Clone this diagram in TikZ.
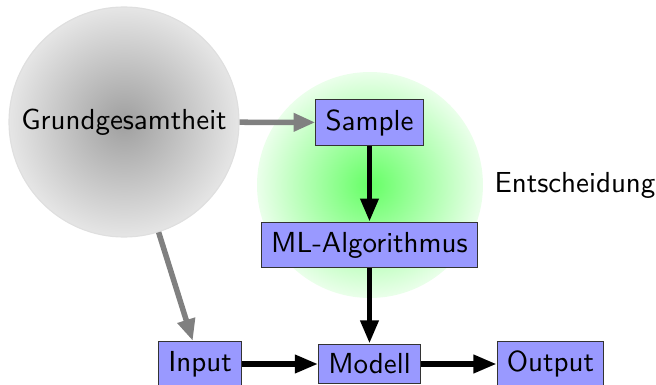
\documentclass[tikz,border=0pt]{standalone}
\usetikzlibrary{arrows.meta,shadings}
\begin{document}
\begin{tikzpicture}[x=0.345pt,y=-0.345pt,
  every node/.style={font=\sffamily},
  box/.style={draw=black!80,fill=blue!40,inner sep=0.3333em},
  grayarr/.style={draw=gray,line width=1.9pt,-{Triangle[length=7.5pt,width=6pt]}},
  blackarr/.style={draw=black,line width=1.9pt,-{Triangle[length=8pt,width=6pt]}}]
\useasboundingbox (0,0) rectangle (656,385);
\node[circle,minimum size=226*0.345pt,inner sep=0,inner color=green!60,outer color=green!8] (E) at (370,185) {};
\node[circle,minimum size=230*0.345pt,inner sep=0,draw=gray!25,inner color=gray!75,outer color=gray!20] (G) at (124,122) {Grundgesamtheit};
\node[anchor=center,inner sep=0] (Elab) at (575,185) {Entscheidung};
\node[box] (S) at (369.5,122.5) {Sample};
\node[box] (ML) at (369.5,245) {ML-Algorithmus};
\node[box] (I) at (200,364) {Input};
\node[box] (M) at (369.5,364) {Modell};
\node[box] (O) at (550.5,364) {Output};
\draw[grayarr] (G) -- (S);
\draw[grayarr] (G) -- (I);
\draw[blackarr] (S) -- (ML);
\draw[blackarr] (ML) -- (M);
\draw[blackarr] (I) -- (M);
\draw[blackarr] (M) -- (O);
\end{tikzpicture}
\end{document}
